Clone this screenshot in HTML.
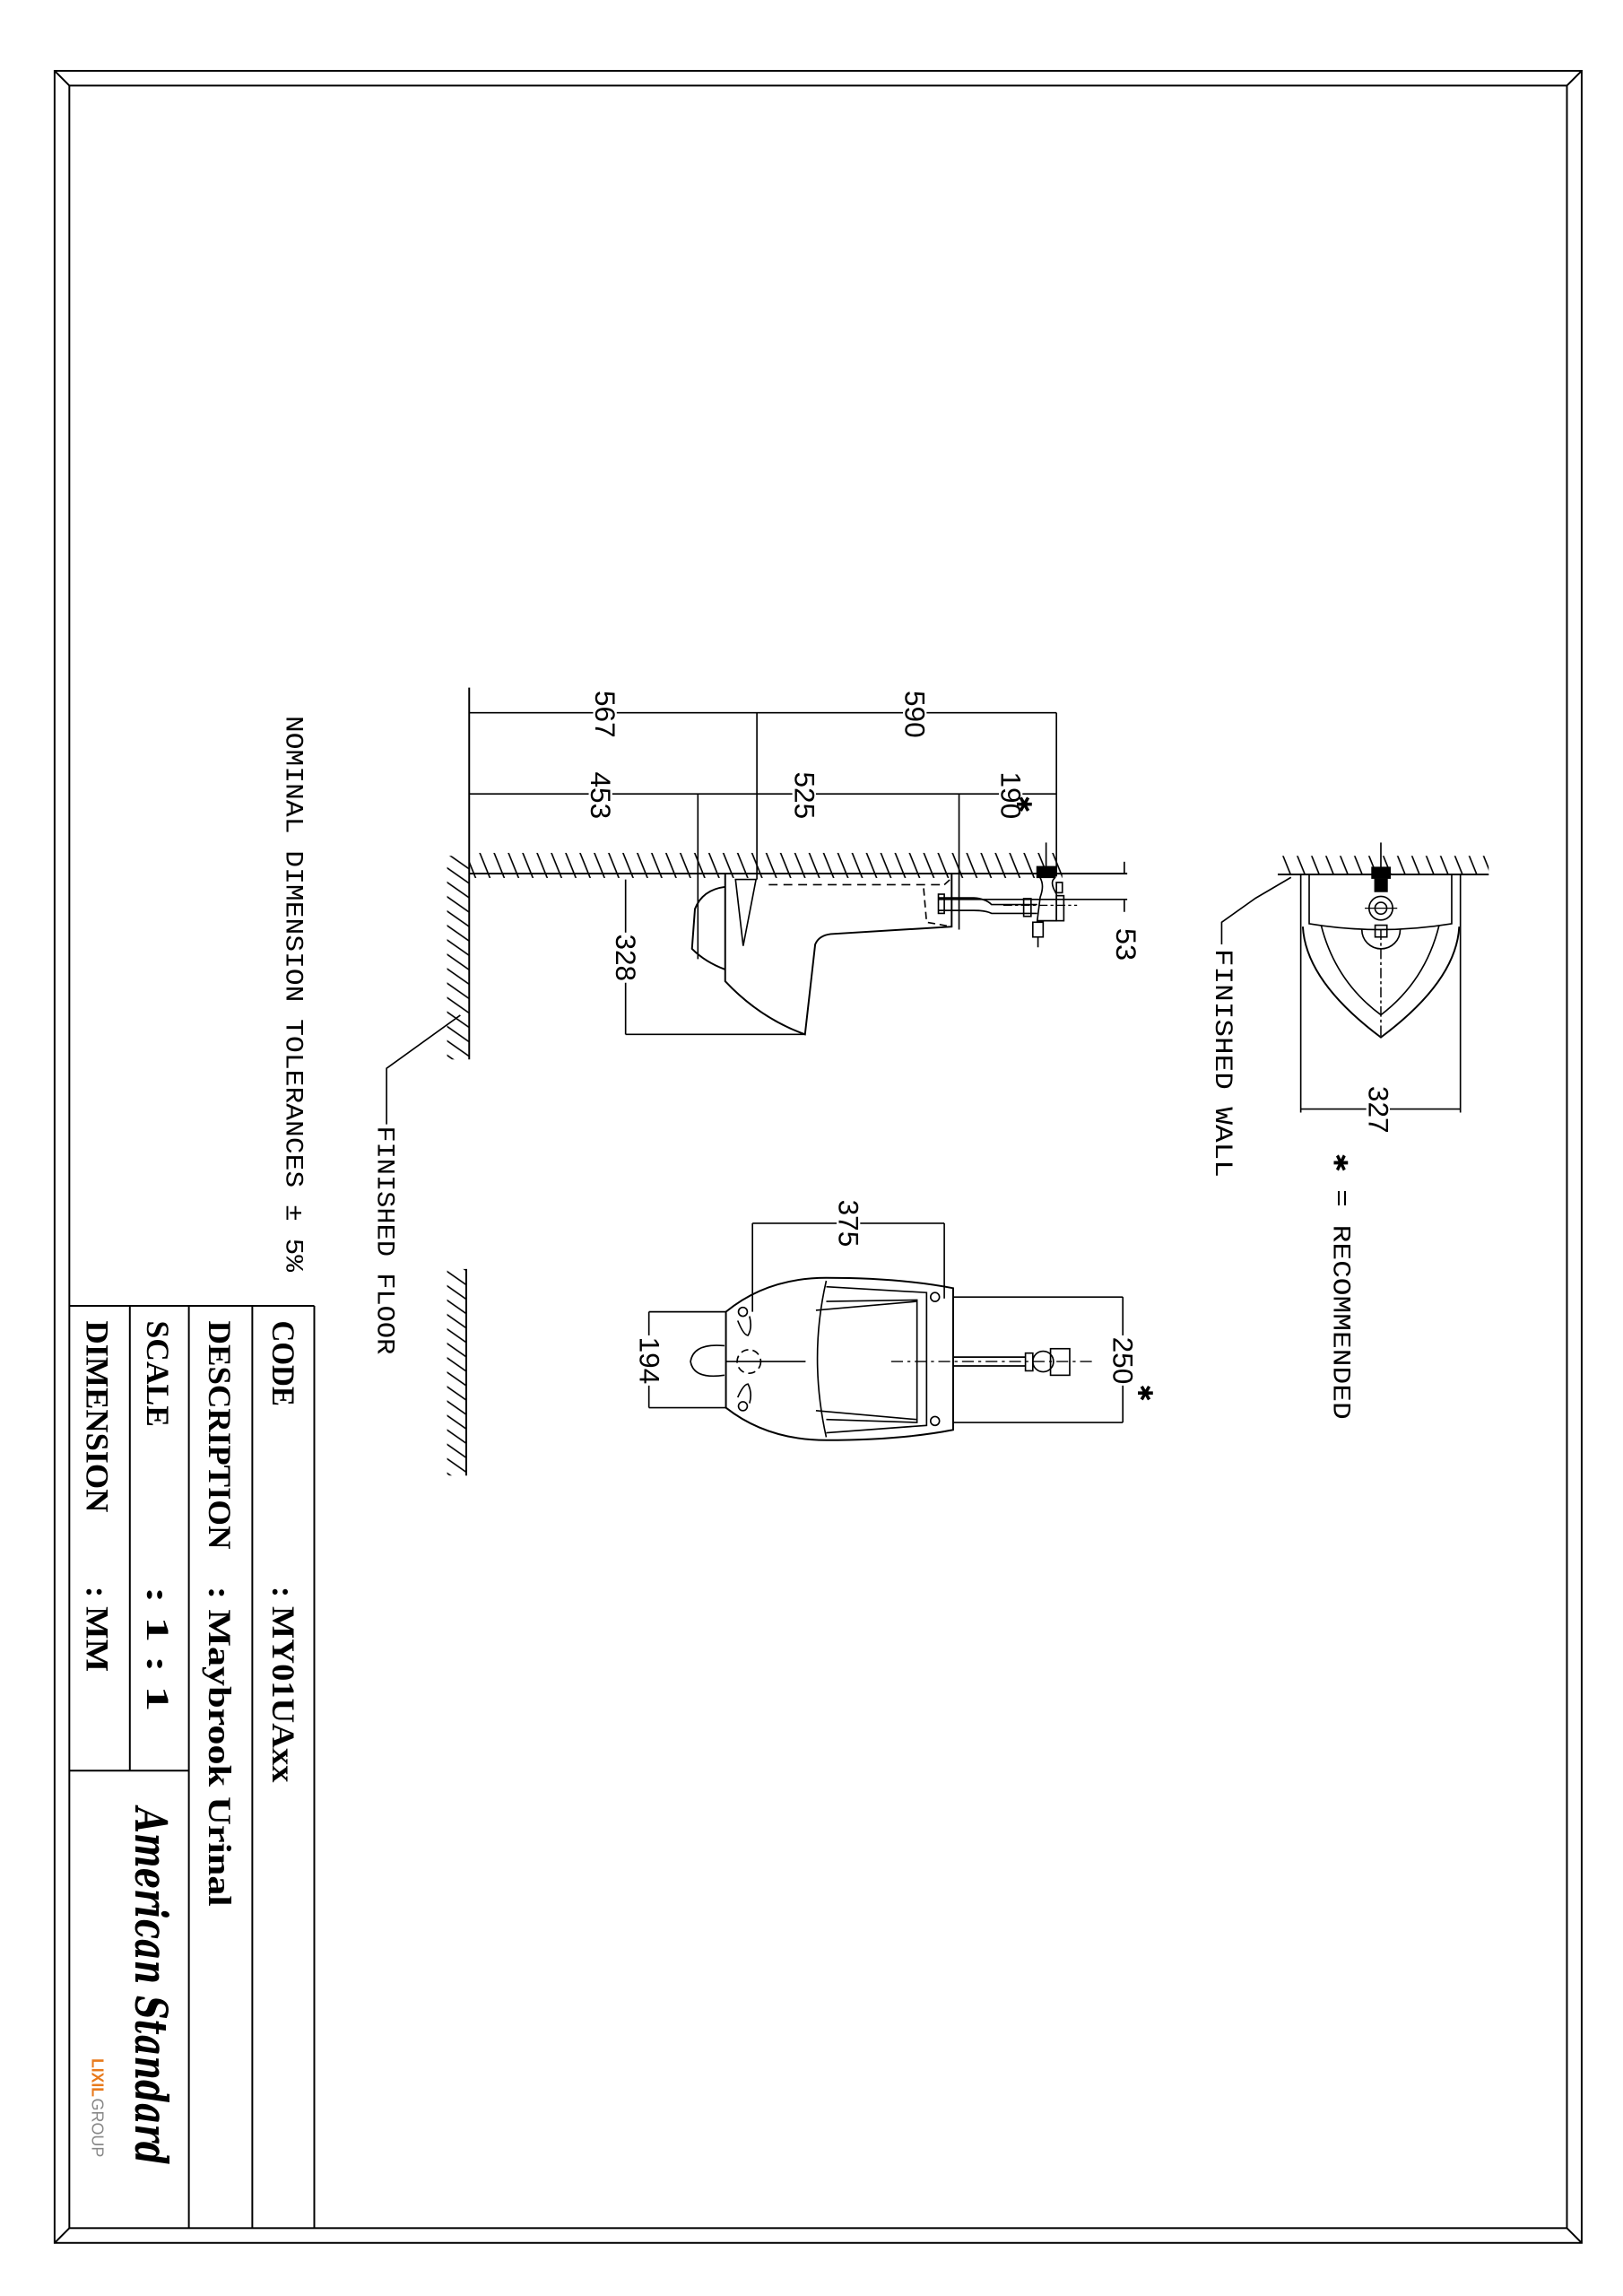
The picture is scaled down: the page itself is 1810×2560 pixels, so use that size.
<!DOCTYPE html>
<html><head><meta charset="utf-8"><style>
html,body{margin:0;padding:0;background:#fff}
svg{display:block}
</style></head><body>
<svg width="1810" height="2560" viewBox="0 0 1100 1556" preserveAspectRatio="none" xmlns="http://www.w3.org/2000/svg">
<defs>
<pattern id="h1" width="9" height="9" patternUnits="userSpaceOnUse" patternTransform="rotate(-22)">
<line x1="4" y1="0" x2="4" y2="9" stroke="#000" stroke-width="1"/></pattern>
<pattern id="h2" width="8" height="8" patternUnits="userSpaceOnUse" patternTransform="rotate(-55)">
<line x1="4" y1="0" x2="4" y2="8" stroke="#000" stroke-width="1"/></pattern>
</defs>
<g fill="none" stroke="#000" stroke-width="1.2">
<!-- frames -->
<rect x="37" y="48" width="1035" height="1472"/>
<rect x="47" y="58" width="1015" height="1452"/>
<line x1="37" y1="48" x2="47" y2="58"/><line x1="1072" y1="48" x2="1062" y2="58"/>
<line x1="37" y1="1520" x2="47" y2="1510"/><line x1="1072" y1="1520" x2="1062" y2="1510"/>
<!-- title block -->
<line x1="47" y1="885" x2="213" y2="885"/>
<line x1="88" y1="885" x2="88" y2="1200"/>
<line x1="128" y1="885" x2="128" y2="1510"/>
<line x1="171" y1="885" x2="171" y2="1510"/>
<line x1="213" y1="885" x2="213" y2="1510"/>
<line x1="47" y1="1200" x2="128" y2="1200"/>
</g>
<!-- hatching -->
<rect x="318" y="578" width="402" height="17" fill="url(#h1)"/>
<rect x="303" y="580" width="15" height="138" fill="url(#h2)"/>
<rect x="303" y="860" width="13" height="140" fill="url(#h2)"/>
<rect x="866" y="580" width="143" height="13" fill="url(#h1)"/>
<g fill="none" stroke="#000" stroke-width="1.2">
<!-- side view walls -->
<line x1="318" y1="466" x2="318" y2="718"/>
<line x1="318" y1="592" x2="764" y2="592"/>
<line x1="316" y1="860" x2="316" y2="1000"/>
<!-- dimensions side -->
<line x1="318" y1="483" x2="716" y2="483" stroke-width="1"/>
<line x1="513" y1="483" x2="513" y2="596" stroke-width="1"/>
<line x1="716" y1="483" x2="716" y2="594" stroke-width="1"/>
<line x1="318" y1="538" x2="716" y2="538" stroke-width="1"/>
<line x1="473" y1="538" x2="473" y2="650" stroke-width="1"/>
<line x1="650" y1="538" x2="650" y2="630" stroke-width="1"/>
<line x1="424" y1="596" x2="424" y2="701" stroke-width="1"/>
<line x1="424" y1="701" x2="546" y2="701" stroke-width="1"/>
<line x1="636" y1="609.5" x2="764" y2="609.5" stroke-width="1"/>
<line x1="762" y1="584" x2="762" y2="592" stroke-width="1"/>
<line x1="762" y1="610" x2="762" y2="618" stroke-width="1"/>
<!-- urinal side -->
<path d="M491.5,592 L491.5,665 Q515,690 545.6,701 L552.5,640 Q555,634 563,633 L645,628 L645,592"/>
<path d="M491.5,601 Q476,603 471,616 L469,643 Q478,652 491.5,657"/>
<path d="M498.5,596 L512.4,596 L503.7,641 Z" stroke-width="1"/>
<path d="M521,599.6 L640,599.6" stroke-dasharray="6,4" stroke-width="1"/>
<path d="M640,599.6 L645,595 M626,602 L628,625 L645,628" stroke-dasharray="5,3" stroke-width="1"/>
<!-- pipe & valve side -->
<path d="M636,608.5 L660,608.5 Q668,609 672,613 L703,613 M636,617 L660,617 Q668,617 672,619 L703,619" stroke-width="1"/>
<rect x="636" y="606" width="4" height="13" stroke-width="1"/>
<rect x="693.8" y="609" width="5" height="12" stroke-width="1"/>
<rect x="703" y="587.5" width="12" height="7" fill="#000"/>
<path d="M705,595 Q708,600 705,608 L703,624 L716,624 L716,606 L714,602 Q712,597 715,595" stroke-width="1"/>
<rect x="716" y="607" width="5" height="17" stroke-width="1"/>
<rect x="716" y="598" width="4" height="7" stroke-width="1"/>
<rect x="700" y="625" width="7" height="10" stroke-width="1"/>
<line x1="703.5" y1="635" x2="703.5" y2="642" stroke-width="1"/>
<line x1="709" y1="571" x2="709" y2="588" stroke-width="1"/>
<line x1="680" y1="613.5" x2="730" y2="613.5" stroke-dasharray="6,2,2,2" stroke-width="0.8"/>
<!-- finished floor leader -->
<polyline points="262,762 262,724 312,688" stroke-width="1"/>
<!-- front view -->
<line x1="510" y1="829" x2="640" y2="829" stroke-width="1"/>
<line x1="510" y1="829" x2="510" y2="889" stroke-width="1"/>
<line x1="640" y1="829" x2="640" y2="880" stroke-width="1"/>
<path d="M492,889 Q520,866 560,866 Q610,866 646,873 L646,969 Q610,976 560,976 Q520,976 492,954 Z"/>
<path d="M560,868 Q548,920 560,974" stroke-width="1"/>
<path d="M560,872 L628,876 L628,966 L560,971" stroke-width="1"/>
<path d="M560,882 L621.5,881 L621.5,964 L560,962" stroke-width="1"/>
<path d="M553,888 L621,882 M553,956 L621,962" stroke-width="1"/>
<circle cx="503.5" cy="889" r="3" stroke-width="1"/>
<circle cx="633.7" cy="879" r="3" stroke-width="1"/>
<circle cx="503.5" cy="953" r="3" stroke-width="1"/>
<circle cx="633.7" cy="963" r="3" stroke-width="1"/>
<path d="M500,895 Q504,905 507,905 Q510,900 508,892 M500,947 Q504,938 507,938 Q510,944 508,951" stroke-width="1"/>
<circle cx="507.6" cy="922.7" r="8" stroke-width="1" stroke-dasharray="5,3"/>
<path d="M491,912 Q470,910 468,922.7 Q470,935 491,932" stroke-width="1"/>
<line x1="492" y1="922.7" x2="546" y2="922.7" stroke-width="1"/>
<line x1="604" y1="922.7" x2="742" y2="922.7" stroke-dasharray="8,3,2,3" stroke-width="0.9"/>
<path d="M646,919.7 L695,919.7 M646,925.7 L695,925.7" stroke-width="1"/>
<rect x="695" y="917" width="5" height="12" stroke-width="1"/>
<circle cx="707" cy="922.7" r="7" stroke-width="1"/>
<rect x="712" y="914" width="13" height="18" stroke-width="1"/>
<line x1="439.8" y1="889" x2="439.8" y2="954" stroke-width="1"/>
<line x1="439.8" y1="889" x2="492" y2="889" stroke-width="1"/>
<line x1="439.8" y1="954" x2="492" y2="954" stroke-width="1"/>
<line x1="761" y1="879" x2="761" y2="964" stroke-width="1"/>
<line x1="646" y1="879" x2="761" y2="879" stroke-width="1"/>
<line x1="646" y1="964" x2="761" y2="964" stroke-width="1"/>
<!-- plan view -->
<line x1="866" y1="592.6" x2="1009" y2="592.6"/>
<line x1="881.6" y1="593" x2="881.6" y2="754" stroke-width="1"/>
<line x1="989.8" y1="593" x2="989.8" y2="754" stroke-width="1"/>
<line x1="881.6" y1="751.6" x2="989.8" y2="751.6" stroke-width="1"/>
<path d="M887.3,593 L887.3,626 Q935,634 983.9,626 L983.9,593" stroke-width="1"/>
<path d="M883,628 Q885,665 935.9,703 Q987,665 989,628" />
<path d="M895.4,627 Q905,665 935.9,687.8 Q966,665 975.4,627" stroke-width="1"/>
<path d="M923,630 A13,13 0 0 0 949,630" stroke-width="1"/>
<line x1="935.9" y1="630" x2="935.9" y2="703" stroke-dasharray="7,2,2,2" stroke-width="0.9"/>
<line x1="935.9" y1="571" x2="935.9" y2="588" stroke-width="1"/>
<rect x="930" y="588" width="12" height="7" fill="#000"/>
<rect x="932" y="596" width="8" height="8" fill="#000"/>
<circle cx="935.9" cy="615.5" r="8" stroke-width="1"/>
<circle cx="935.9" cy="615.5" r="4" stroke-width="1"/>
<line x1="925" y1="615.5" x2="947" y2="615.5" stroke-width="0.8"/>
<rect x="932" y="627" width="8" height="8" stroke-width="1"/>
<polyline points="875,594.6 850.8,608.8 828,625 828,640" stroke-width="1"/>
</g>
<!-- texts -->
<g font-family="'Liberation Mono', 'DejaVu Sans Mono', monospace" fill="#000">
<text transform="translate(198,485) rotate(90)" dominant-baseline="central" font-size="17" textLength="377" lengthAdjust="spacingAndGlyphs">NOMINAL DIMENSION TOLERANCES ± 5%</text>
<text transform="translate(260,763) rotate(90)" dominant-baseline="central" font-size="17" textLength="155" lengthAdjust="spacingAndGlyphs">FINISHED FLOOR</text>
<text transform="translate(828,643) rotate(90)" dominant-baseline="central" font-size="17" textLength="155" lengthAdjust="spacingAndGlyphs">FINISHED WALL</text>
<text transform="translate(908,782) rotate(90)" dominant-baseline="central" font-size="17" textLength="180" lengthAdjust="spacingAndGlyphs">✱ = RECOMMENDED</text>
</g>
<g font-family="'Liberation Sans', 'DejaVu Sans', sans-serif" fill="#000" font-size="19">
<g text-anchor="middle" dominant-baseline="central">
<rect x="402" y="467" width="16" height="34" fill="#fff"/>
<text transform="translate(410,484) rotate(90)" textLength="32" lengthAdjust="spacingAndGlyphs">567</text>
<rect x="612" y="467" width="16" height="34" fill="#fff"/>
<text transform="translate(620,484) rotate(90)" textLength="32" lengthAdjust="spacingAndGlyphs">590</text>
<rect x="399" y="522" width="16" height="34" fill="#fff"/>
<text transform="translate(407,539) rotate(90)" textLength="32" lengthAdjust="spacingAndGlyphs">453</text>
<rect x="537" y="522" width="16" height="34" fill="#fff"/>
<text transform="translate(545,539) rotate(90)" textLength="32" lengthAdjust="spacingAndGlyphs">525</text>
<rect x="677" y="522" width="16" height="34" fill="#fff"/>
<text transform="translate(685,539) rotate(90)" textLength="32" lengthAdjust="spacingAndGlyphs">190</text>
<rect x="416" y="632" width="16" height="34" fill="#fff"/>
<text transform="translate(424,649) rotate(90)" textLength="32" lengthAdjust="spacingAndGlyphs">328</text>
<text transform="translate(763,640) rotate(90)" textLength="22" lengthAdjust="spacingAndGlyphs">53</text>
<rect x="567" y="812" width="16" height="34" fill="#fff"/>
<text transform="translate(575,829) rotate(90)" textLength="32" lengthAdjust="spacingAndGlyphs">375</text>
<rect x="432" y="905" width="16" height="34" fill="#fff"/>
<text transform="translate(440,922) rotate(90)" textLength="32" lengthAdjust="spacingAndGlyphs">194</text>
<rect x="753" y="905" width="16" height="34" fill="#fff"/>
<text transform="translate(761,922) rotate(90)" textLength="32" lengthAdjust="spacingAndGlyphs">250</text>
<rect x="926" y="735" width="16" height="34" fill="#fff"/>
<text transform="translate(934,752) rotate(90)" textLength="32" lengthAdjust="spacingAndGlyphs">327</text>
</g>
<text transform="translate(694,545) rotate(90)" font-size="14" dominant-baseline="central" text-anchor="middle">✱</text>
<text transform="translate(776,944) rotate(90)" font-size="14" dominant-baseline="central" text-anchor="middle">✱</text>
</g>
<g font-family="'Liberation Serif', 'DejaVu Serif', serif" fill="#000" font-weight="bold" font-size="22" dominant-baseline="central">
<text transform="translate(192,895) rotate(90)" textLength="58" lengthAdjust="spacingAndGlyphs">CODE</text>
<text transform="translate(192,1075) rotate(90)" textLength="133" lengthAdjust="spacingAndGlyphs">: MY01UAxx</text>
<text transform="translate(149,895) rotate(90)" textLength="155" lengthAdjust="spacingAndGlyphs">DESCRIPTION</text>
<text transform="translate(149,1075) rotate(90)" textLength="217" lengthAdjust="spacingAndGlyphs">: Maybrook Urinal</text>
<text transform="translate(107,895) rotate(90)" textLength="72" lengthAdjust="spacingAndGlyphs">SCALE</text>
<text transform="translate(107,1075) rotate(90)" textLength="85" lengthAdjust="spacingAndGlyphs">: 1 : 1</text>
<text transform="translate(66,895) rotate(90)" textLength="130" lengthAdjust="spacingAndGlyphs">DIMENSION</text>
<text transform="translate(66,1075) rotate(90)" textLength="58" lengthAdjust="spacingAndGlyphs">: MM</text>
<text transform="translate(102,1225) rotate(90)" font-family="'DejaVu Serif', serif" font-style="italic" font-size="30" textLength="242" lengthAdjust="spacingAndGlyphs">American Standard</text>
</g>
<g font-family="'Liberation Sans', sans-serif" font-size="11" dominant-baseline="central">
<text transform="translate(66,1395) rotate(90)" fill="#e87a1c" font-weight="bold" textLength="26" lengthAdjust="spacingAndGlyphs">LIXIL</text>
<text transform="translate(66,1422) rotate(90)" fill="#888" textLength="40" lengthAdjust="spacingAndGlyphs">GROUP</text>
</g>
</svg>
</body></html>
